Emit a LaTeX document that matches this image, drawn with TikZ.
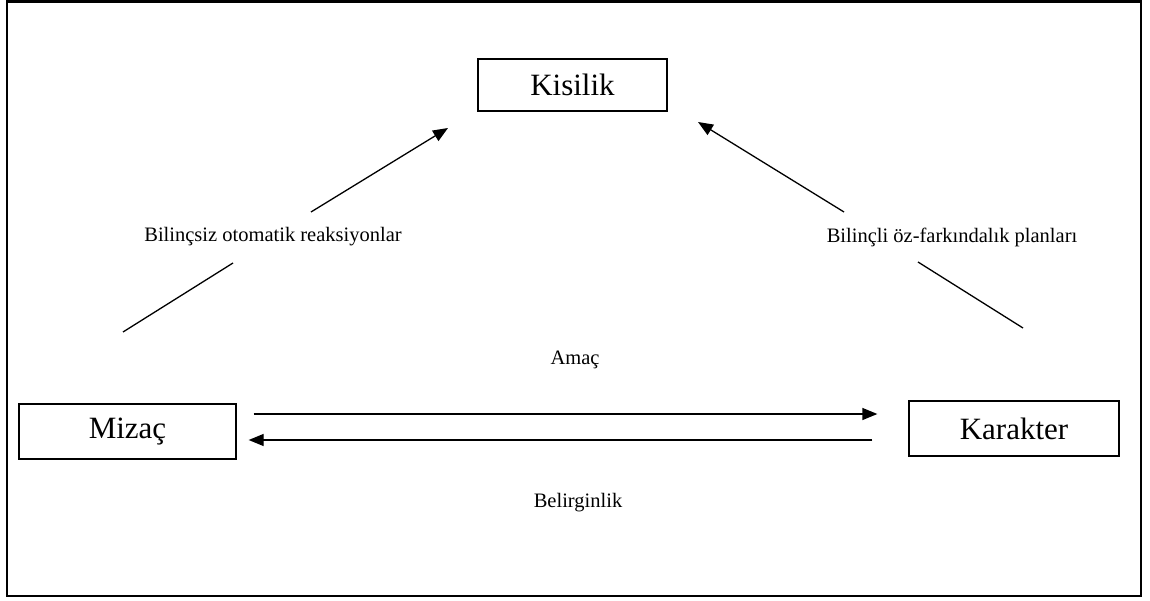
\documentclass[tikz,border=0pt]{standalone}
\usepackage{fontspec}
\setmainfont{Liberation Serif}
\usetikzlibrary{arrows.meta}
\tikzset{
  box/.style={draw=black, line width=1.3pt, inner sep=0pt, font=\fontsize{31}{36}\selectfont},
  lbl/.style={inner sep=0pt, font=\fontsize{20.5}{24}\selectfont},
  conn/.style={line width=1.3pt},
  arr/.style={conn, -{Triangle[length=15pt,width=12pt]}},
}
\begin{document}
\begin{tikzpicture}[x=1pt,y=-1pt]
\useasboundingbox (0,0) rectangle (1150,601);
\draw[line width=2.8pt] (7,1.5) rectangle (1141,596);
% boxes
\node[box, minimum width=189pt, minimum height=52pt] (kis) at (572.5,85) {Kisilik};
\node[box, minimum width=217pt, minimum height=55pt] (miz) at (127.5,431.5) {Mizaç};
\node[box, minimum width=210pt, minimum height=55pt] (kar) at (1014,428.5) {Karakter};
% labels
\node[lbl] (l1) at (273,237) {Bilinçsiz otomatik reaksiyonlar};
\node[lbl] (l2) at (952,237) {Bilinçli öz-farkındalık planları};
\node[lbl] (amac) at (575,360) {Amaç};
\node[lbl] (bel) at (578,503) {Belirginlik};
% diagonal connectors
\coordinate (a1) at (123,332);
\coordinate (a2) at (233,263);
\coordinate (a3) at (311,212);
\coordinate (a4) at (448,128);
\draw[conn] (a1) -- (a2);
\draw[arr] (a3) -- (a4);
\coordinate (b1) at (1023,328);
\coordinate (b2) at (918,262);
\coordinate (b3) at (844,212);
\coordinate (b4) at (698,122);
\draw[conn] (b1) -- (b2);
\draw[arr] (b3) -- (b4);
% horizontal connectors
\draw[arr] ([shift={(17,-17.5)}]miz.east) -- ([shift={(-31,-14.5)}]kar.west);
\draw[arr] ([shift={(-36,11.5)}]kar.west) -- ([shift={(12,8.5)}]miz.east);
\end{tikzpicture}
\end{document}
